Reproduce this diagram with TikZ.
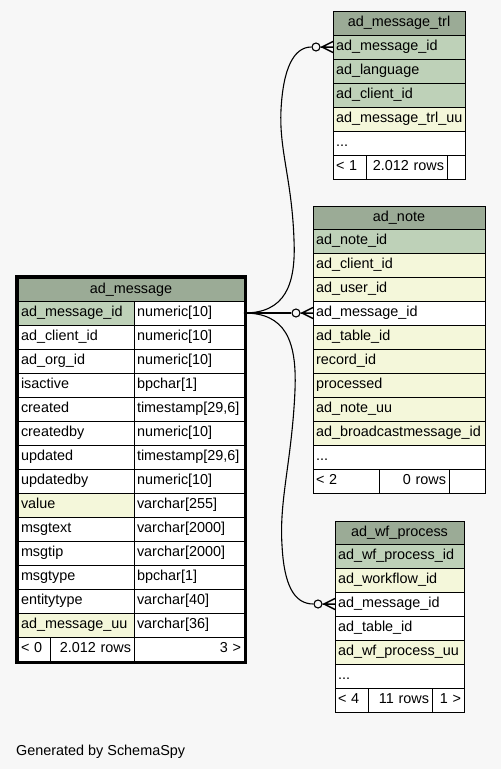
\documentclass[tikz,border=0pt]{standalone}
\usepackage{fontspec}
\setmainfont{Liberation Sans}
\usetikzlibrary{calc}
\definecolor{bg}{HTML}{F7F7F7}
\definecolor{hdr}{HTML}{9BAB96}
\definecolor{pk}{HTML}{BED1B8}
\definecolor{idx}{HTML}{F4F7DA}
\tikzset{
  cell/.style={draw=black, line width=1pt, anchor=north west, inner xsep=3pt, inner ysep=0pt, outer sep=0pt,
    text height=10pt, text depth=3pt, font=\fontsize{14.4}{16}\selectfont},
  edge/.style={draw=black, line width=1.1pt},
  odot/.style={circle, draw=black, fill=bg, line width=1.1pt, minimum size=8pt, inner sep=0pt},
  crow/.style={draw=black, line width=1.5pt},
  gen/.style={anchor=base west, inner sep=0pt, font=\fontsize{14.4}{16}\selectfont}
}
% name, x, y, w, h, fill, align, text
\newcommand{\cellat}[8]{%
  \pgfmathsetmacro{\cwd}{#4-6}%
  \node[cell, fill=#6, text width=\cwd pt, minimum height=#5pt, align=#7] (#1) at (#2,#3) {#8};}
\newcommand{\crowend}[2]{%
  \node[odot] (#1) at ($(#2.west)+(-17,0)$) {};
  \coordinate (#1a) at ($(#2.west)+(-11,0)$);
  \draw[crow] (#1) -- (#1a) -- ($(#2.west)+(0,-5.5)$) (#1a) -- (#2.west) (#1a) -- ($(#2.west)+(0,5.5)$);}
\begin{document}
\begin{tikzpicture}[x=1pt,y=-1pt]
\fill[bg] (0,0) rectangle (501,769);
\useasboundingbox (0,0) rectangle (501,769);

% ---------------- ad_message ----------------
\cellat{mh}{18}{278}{226}{23}{hdr}{center}{ad\_message}
\cellat{m1n}{18}{301}{116}{24}{pk}{left}{ad\_message\_id}
\cellat{m1t}{134}{301}{110}{24}{white}{left}{numeric[10]}
\cellat{m2n}{18}{325}{116}{24}{white}{left}{ad\_client\_id}
\cellat{m2t}{134}{325}{110}{24}{white}{left}{numeric[10]}
\cellat{m3n}{18}{349}{116}{24}{white}{left}{ad\_org\_id}
\cellat{m3t}{134}{349}{110}{24}{white}{left}{numeric[10]}
\cellat{m4n}{18}{373}{116}{24}{white}{left}{isactive}
\cellat{m4t}{134}{373}{110}{24}{white}{left}{bpchar[1]}
\cellat{m5n}{18}{397}{116}{24}{white}{left}{created}
\cellat{m5t}{134}{397}{110}{24}{white}{left}{timestamp[29,6]}
\cellat{m6n}{18}{421}{116}{24}{white}{left}{createdby}
\cellat{m6t}{134}{421}{110}{24}{white}{left}{numeric[10]}
\cellat{m7n}{18}{445}{116}{24}{white}{left}{updated}
\cellat{m7t}{134}{445}{110}{24}{white}{left}{timestamp[29,6]}
\cellat{m8n}{18}{469}{116}{24}{white}{left}{updatedby}
\cellat{m8t}{134}{469}{110}{24}{white}{left}{numeric[10]}
\cellat{m9n}{18}{493}{116}{24}{idx}{left}{value}
\cellat{m9t}{134}{493}{110}{24}{white}{left}{varchar[255]}
\cellat{m10n}{18}{517}{116}{24}{white}{left}{msgtext}
\cellat{m10t}{134}{517}{110}{24}{white}{left}{varchar[2000]}
\cellat{m11n}{18}{541}{116}{24}{white}{left}{msgtip}
\cellat{m11t}{134}{541}{110}{24}{white}{left}{varchar[2000]}
\cellat{m12n}{18}{565}{116}{24}{white}{left}{msgtype}
\cellat{m12t}{134}{565}{110}{24}{white}{left}{bpchar[1]}
\cellat{m13n}{18}{589}{116}{24}{white}{left}{entitytype}
\cellat{m13t}{134}{589}{110}{24}{white}{left}{varchar[40]}
\cellat{m14n}{18}{613}{116}{24}{idx}{left}{ad\_message\_uu}
\cellat{m14t}{134}{613}{110}{24}{white}{left}{varchar[36]}
\cellat{mf1}{18}{637}{32}{24}{white}{left}{< 0}
\cellat{mf2}{50}{637}{84}{24}{white}{right}{2.012 rows}
\cellat{mf3}{134}{637}{110}{24}{white}{right}{3 >}
\draw[line width=3pt] (16.5,276.5) rectangle (245.5,662.5);

% ---------------- ad_message_trl ----------------
\cellat{th}{333}{11}{132}{24}{hdr}{center}{ad\_message\_trl}
\cellat{t1}{333}{35}{132}{24}{pk}{left}{ad\_message\_id}
\cellat{t2}{333}{59}{132}{24}{pk}{left}{ad\_language}
\cellat{t3}{333}{83}{132}{24}{pk}{left}{ad\_client\_id}
\cellat{t4}{333}{107}{132}{24}{idx}{left}{ad\_message\_trl\_uu}
\cellat{t5}{333}{131}{132}{24}{white}{left}{...}
\cellat{tf1}{333}{155}{33}{24}{white}{left}{< 1}
\cellat{tf2}{366}{155}{81}{24}{white}{right}{2.012 rows}
\cellat{tf3}{447}{155}{18}{24}{white}{left}{}

% ---------------- ad_note ----------------
\cellat{nh}{313}{206}{172}{23}{hdr}{center}{ad\_note}
\cellat{n1}{313}{229}{172}{24}{pk}{left}{ad\_note\_id}
\cellat{n2}{313}{253}{172}{24}{idx}{left}{ad\_client\_id}
\cellat{n3}{313}{277}{172}{24}{idx}{left}{ad\_user\_id}
\cellat{n4}{313}{301}{172}{24}{white}{left}{ad\_message\_id}
\cellat{n5}{313}{325}{172}{24}{idx}{left}{ad\_table\_id}
\cellat{n6}{313}{349}{172}{24}{idx}{left}{record\_id}
\cellat{n7}{313}{373}{172}{24}{idx}{left}{processed}
\cellat{n8}{313}{397}{172}{24}{idx}{left}{ad\_note\_uu}
\cellat{n9}{313}{421}{172}{24}{idx}{left}{ad\_broadcastmessage\_id}
\cellat{n10}{313}{445}{172}{24}{white}{left}{...}
\cellat{nf1}{313}{469}{66}{24}{white}{left}{< 2}
\cellat{nf2}{379}{469}{70}{24}{white}{right}{0 rows}
\cellat{nf3}{449}{469}{36}{24}{white}{left}{}

% ---------------- ad_wf_process ----------------
\cellat{wh}{335}{521}{129}{23}{hdr}{center}{ad\_wf\_process}
\cellat{w1}{335}{544}{129}{24}{pk}{left}{ad\_wf\_process\_id}
\cellat{w2}{335}{568}{129}{24}{idx}{left}{ad\_workflow\_id}
\cellat{w3}{335}{592}{129}{24}{white}{left}{ad\_message\_id}
\cellat{w4}{335}{616}{129}{24}{white}{left}{ad\_table\_id}
\cellat{w5}{335}{640}{129}{24}{idx}{left}{ad\_wf\_process\_uu}
\cellat{w6}{335}{664}{129}{24}{white}{left}{...}
\cellat{wf1}{335}{688}{33}{24}{white}{left}{< 4}
\cellat{wf2}{368}{688}{64}{24}{white}{right}{11 rows}
\cellat{wf3}{432}{688}{32}{24}{white}{right}{1 >}

% ---------------- connectors ----------------
\crowend{c1}{t1}
\crowend{c2}{n4}
\crowend{c3}{w3}
\draw[edge] (m1t.east) .. controls (285,313) and (296,285) .. (294,240)
  .. controls (292,180) and (279,150) .. (281,110)
  .. controls (283,70) and (293,47) .. (c1.west);
\draw[edge] (m1t.east) -- (c2.west);
\draw[edge] (m1t.east) .. controls (285,313) and (297,340) .. (295,390)
  .. controls (292,460) and (279,500) .. (282,545)
  .. controls (284,585) and (294,604) .. (c3.west);

\node[gen] (gen) at (16,755) {Generated by SchemaSpy};
\end{tikzpicture}
\end{document}
